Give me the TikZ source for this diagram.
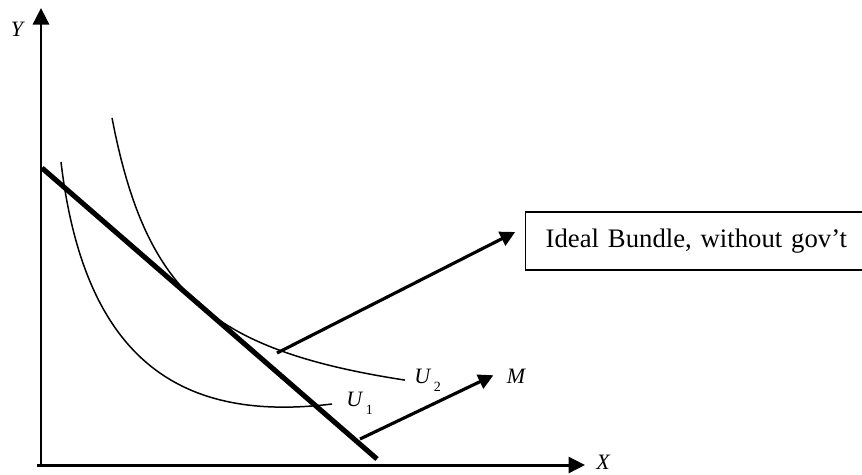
\documentclass[tikz,border=0pt]{standalone}
\usepackage{fontspec}
\setmainfont{Liberation Serif}
\usetikzlibrary{arrows.meta}

\begin{document}
\begin{tikzpicture}[
    x=0.02cm, y=-0.02cm,
    axis/.style={line width=1.7pt, -{Triangle[length=0.33cm,width=0.32cm]}},
    pointer/.style={line width=1.8pt, -{Triangle[length=0.3cm,width=0.3cm]}},
    budget/.style={line width=2.9pt},
    curve/.style={line width=0.85pt},
    lbl/.style={font=\fontsize{12.5}{14}\selectfont\itshape, inner sep=0pt},
    note/.style={draw, line width=0.8pt, anchor=west, minimum height=1.16cm, text width=6.1cm, inner xsep=0.4cm, align=left, font=\fontsize{15.2}{18}\selectfont}
]
\useasboundingbox (0,0) rectangle (862,474);

\coordinate (origin) at (41,467);
\coordinate (xstart) at (37,465);
\coordinate (ytop) at (41,8);
\coordinate (xend) at (585,465);
\node[lbl] (ylab) at (17,29) {Y};
\node[lbl] (xlab) at (603,462) {X};

\draw[axis] (origin) -- (ytop);
\draw[axis] (xstart) -- (xend);

\draw[curve] (61,162) .. controls (85,365) and (185,422) .. (332,404);
\draw[curve] plot[domain=112:405, samples=100] (\x, {434.4 - 192.09/((\x-51.3)/100)});

\coordinate (btop) at (42,168);
\coordinate (bbot) at (377,459);
\draw[budget] (btop) -- (bbot);

\node[lbl, anchor=base west] (uone) at (346,406) {U\,\raisebox{-5pt}{\fontsize{8}{9}\selectfont\upshape 1}};
\node[lbl, anchor=base west] (utwo) at (414,383) {U\,\raisebox{-5pt}{\fontsize{8}{9}\selectfont\upshape 2}};

\node[note] (ideal) at (525,241) {Ideal Bundle, without gov't};
\node[lbl] (mlab) at (516,376) {M};

\coordinate (tangent) at (277,353);
\coordinate (shift) at (360,439);
\draw[pointer, shorten >=0.22cm] (tangent) -- ([yshift=0.28cm]ideal.west);
\draw[pointer, shorten >=0.29cm] (shift) -- ([yshift=0.14cm]mlab.west);

\end{tikzpicture}
\end{document}
